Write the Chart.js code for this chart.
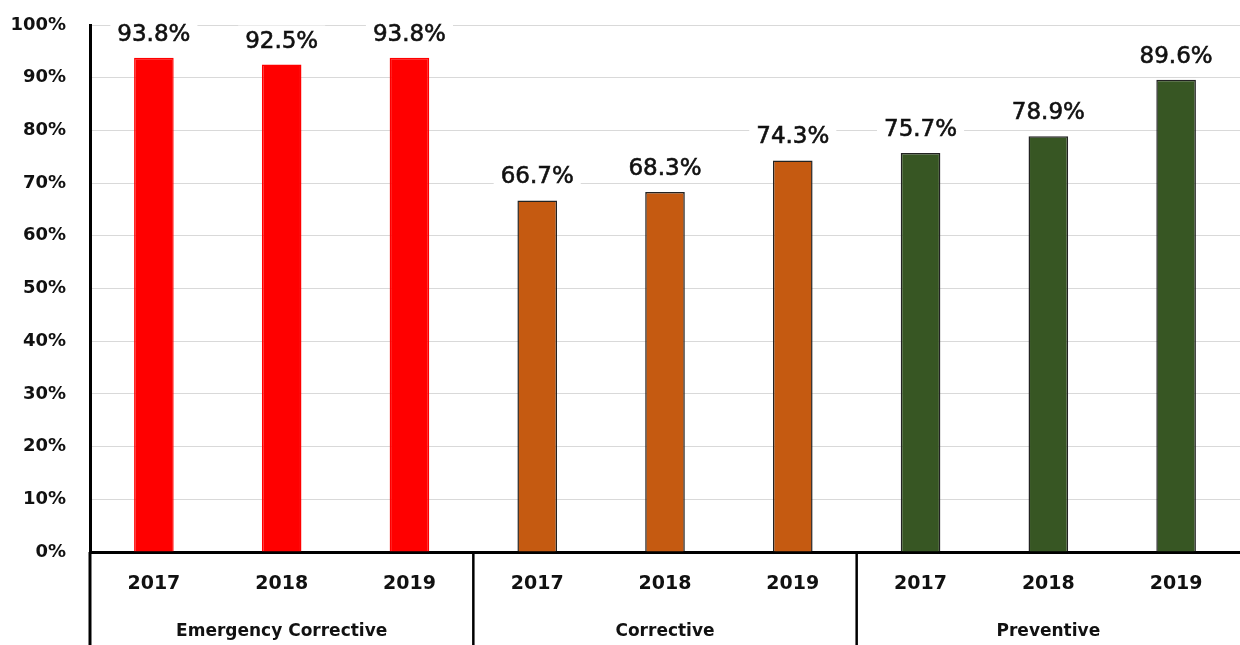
<!DOCTYPE html>
<html>
<head>
<meta charset="utf-8">
<script src="https://cdn.jsdelivr.net/npm/chart.js@4"></script>
<style>
  html, body { margin: 0; padding: 0; background: #fff; }
  #wrap { width: 1240px; height: 645px; }
</style>
</head>
<body>
<div id="wrap"><canvas id="chart"></canvas></div>
<script>
// Completion rate per work order type and year
const groups = ['Emergency Corrective', 'Corrective', 'Preventive'];
const years = ['2017', '2018', '2019'];
const emergencyValues = [93.8, 92.5, 93.8];
const correctiveValues = [66.7, 68.3, 74.3];
const preventiveValues = [75.7, 78.9, 89.6];
const groupColors = ['#ff0000', '#c55a11', '#375623'];
const groupBorders = ['#ff0000', '#222222', '#222222'];

const seriesByGroup = [emergencyValues, correctiveValues, preventiveValues];
const labels = [];
const values = [];
const colors = [];
const borders = [];
groups.forEach((g, gi) => {
    years.forEach((y, yi) => {
        labels.push(y);
        values.push(seriesByGroup[gi][yi]);
        colors.push(groupColors[gi]);
        borders.push(groupBorders[gi]);
    });
});

const FONT = "'DejaVu Sans', Verdana, sans-serif";

// Value labels above each bar, on a white box that hides the gridlines
const valueLabels = {
    id: 'valueLabels',
    afterDatasetsDraw(chart) {
        const ctx = chart.ctx;
        const meta = chart.getDatasetMeta(0);
        ctx.save();
        ctx.font = '23px ' + FONT;
        ctx.textAlign = 'center';
        ctx.textBaseline = 'alphabetic';
        ctx.lineWidth = 0.6;
        ctx.strokeStyle = '#111';
        meta.data.forEach((bar, i) => {
            const text = values[i].toFixed(1) + '%';
            const w = ctx.measureText(text).width;
            const base = bar.y - 17;
            ctx.fillStyle = '#fff';
            ctx.fillRect(bar.x - w / 2 - 7, base - 22, w + 14, 26);
            ctx.fillStyle = '#111';
            ctx.fillText(text, bar.x, base);
            ctx.strokeText(text, bar.x, base);
        });
        ctx.restore();
    }
};

// Group row under the years, with separator lines between groups
const groupAxis = {
    id: 'groupAxis',
    afterDraw(chart) {
        const ctx = chart.ctx;
        const xs = chart.scales.x;
        const area = chart.chartArea;
        const bottom = chart.height;
        ctx.save();
        ctx.strokeStyle = '#000';
        ctx.lineWidth = 3;
        ctx.beginPath();
        ctx.moveTo(area.left, area.bottom);
        ctx.lineTo(area.left, bottom);
        ctx.stroke();
        ctx.lineWidth = 2.5;
        for (let gi = 1; gi < groups.length; gi++) {
            const x = (xs.getPixelForValue(gi * 3 - 1) + xs.getPixelForValue(gi * 3)) / 2;
            ctx.beginPath();
            ctx.moveTo(x, area.bottom);
            ctx.lineTo(x, bottom);
            ctx.stroke();
        }
        ctx.fillStyle = '#111';
        ctx.font = 'bold 17px ' + FONT;
        ctx.textAlign = 'center';
        ctx.textBaseline = 'middle';
        groups.forEach((g, gi) => {
            const x = xs.getPixelForValue(gi * 3 + 1);
            ctx.fillText(g, x, 632);
        });
        ctx.restore();
    }
};

new Chart(document.getElementById('chart'), {
    type: 'bar',
    data: {
        labels: labels,
        datasets: [{
            data: values,
            backgroundColor: colors,
            borderColor: borders,
            borderWidth: 1.5,
            borderSkipped: 'bottom',
            categoryPercentage: 1,
            barPercentage: 0.31
        }]
    },
    options: {
        responsive: true,
        maintainAspectRatio: false,
        animation: false,
        layout: { padding: { top: 25, right: 0, left: 0, bottom: 0 } },
        plugins: {
            legend: { display: false },
            tooltip: { enabled: false }
        },
        scales: {
            x: {
                grid: { display: false },
                border: { color: '#000', width: 3 },
                ticks: {
                    color: '#111',
                    font: { family: FONT, size: 19, weight: 'bold' },
                    padding: 13,
                    maxRotation: 0
                },
                afterFit(scale) { scale.height = 93; }
            },
            y: {
                min: 0,
                max: 100,
                grid: { color: '#d9d9d9', lineWidth: 1, drawTicks: false },
                border: { color: '#000', width: 3 },
                ticks: {
                    stepSize: 10,
                    color: '#111',
                    padding: 24,
                    font: { family: FONT, size: 18, weight: 'bold' },
                    callback: v => v + '%'
                },
                afterFit(scale) {
                    scale.width = 90;
                    scale.paddingTop = 0;
                    scale.paddingBottom = 0;
                }
            }
        }
    },
    plugins: [valueLabels, groupAxis]
});
</script>
</body>
</html>
